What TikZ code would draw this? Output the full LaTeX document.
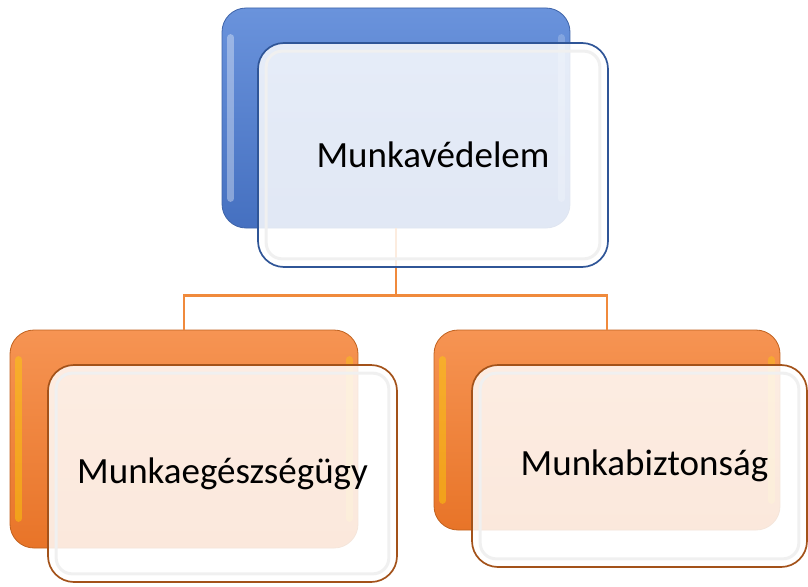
\documentclass[tikz,border=0pt]{standalone}
\usepackage{fontspec}
\setmainfont{Carlito}
\definecolor{bTop}{HTML}{6A93DC}
\definecolor{bBot}{HTML}{4570C0}
\definecolor{bEdge}{HTML}{3D63A8}
\definecolor{bFrontEdge}{HTML}{2F5597}
\definecolor{oTop}{HTML}{F69453}
\definecolor{oBot}{HTML}{E87428}
\definecolor{oEdge}{HTML}{C0611E}
\definecolor{oFrontEdge}{HTML}{A3521A}
\definecolor{link}{HTML}{F08A3C}
\begin{document}
\begin{tikzpicture}[x=1pt,y=-1pt,
  backbox/.style={rounded corners=24pt, line width=0.8pt, inner sep=0pt},
  backblue/.style={backbox, top color=bTop, bottom color=bBot, draw=bEdge},
  backorange/.style={backbox, top color=oTop, bottom color=oBot, draw=oEdge},
  frontbox/.style={rounded corners=26pt, line width=1.7pt, fill=white, fill opacity=0.84, text opacity=1, inner sep=0pt, font=\fontsize{37}{44}\selectfont},
  bevel/.style={draw=black!6, line width=3pt, rounded corners=16pt},
  hilite/.style={line width=7pt, line cap=round},
  connector/.style={draw=link, line width=2.4pt}
]
\useasboundingbox (0,0) rectangle (808,586);

% back boxes
\node[backblue, minimum width=348pt, minimum height=220pt] (topback) at (396,118) {};
\node[backorange, minimum width=348pt, minimum height=218pt] (leftback) at (184,439) {};
\node[backorange, minimum width=346pt, minimum height=200pt] (rightback) at (607,430) {};

% highlights on back boxes
\draw[hilite, white, opacity=0.35] ([shift={(9,30)}]topback.north west) -- ([shift={(9,-30)}]topback.south west);
\draw[hilite, white, opacity=0.2] ([shift={(-9,30)}]topback.north east) -- ([shift={(-9,-30)}]topback.south east);
\draw[hilite, yellow!70!orange, opacity=0.45] ([shift={(9,30)}]leftback.north west) -- ([shift={(9,-30)}]leftback.south west);
\draw[hilite, yellow!70!orange, opacity=0.35] ([shift={(-9,30)}]leftback.north east) -- ([shift={(-9,-30)}]leftback.south east);
\draw[hilite, yellow!70!orange, opacity=0.45] ([shift={(9,30)}]rightback.north west) -- ([shift={(9,-30)}]rightback.south west);
\draw[hilite, yellow!70!orange, opacity=0.35] ([shift={(-9,30)}]rightback.north east) -- ([shift={(-9,-30)}]rightback.south east);

% connectors
\coordinate (mid) at ([yshift=-67pt]topback.south);
\draw[connector] (topback.south) -- (mid) -| (leftback.north);
\draw[connector] (mid) -| (rightback.north);

% front boxes
\node[frontbox, draw=bFrontEdge, minimum width=350pt, minimum height=224pt] (top) at (433,155) {Munkavédelem};
\node[frontbox, draw=oFrontEdge, minimum width=349pt, minimum height=217pt] (left) at (222.5,473.5) {Munkaegészségügy};
\node[frontbox, draw=oFrontEdge, minimum width=335pt, minimum height=202pt] (right) at (639.5,466) {\hspace*{10pt}Munkabiztonság};

% inner bevels
\foreach \n in {top,left,right}{
  \draw[bevel] ([shift={(9,9)}]\n.north west) rectangle ([shift={(-9,-9)}]\n.south east);
}
\end{tikzpicture}
\end{document}
